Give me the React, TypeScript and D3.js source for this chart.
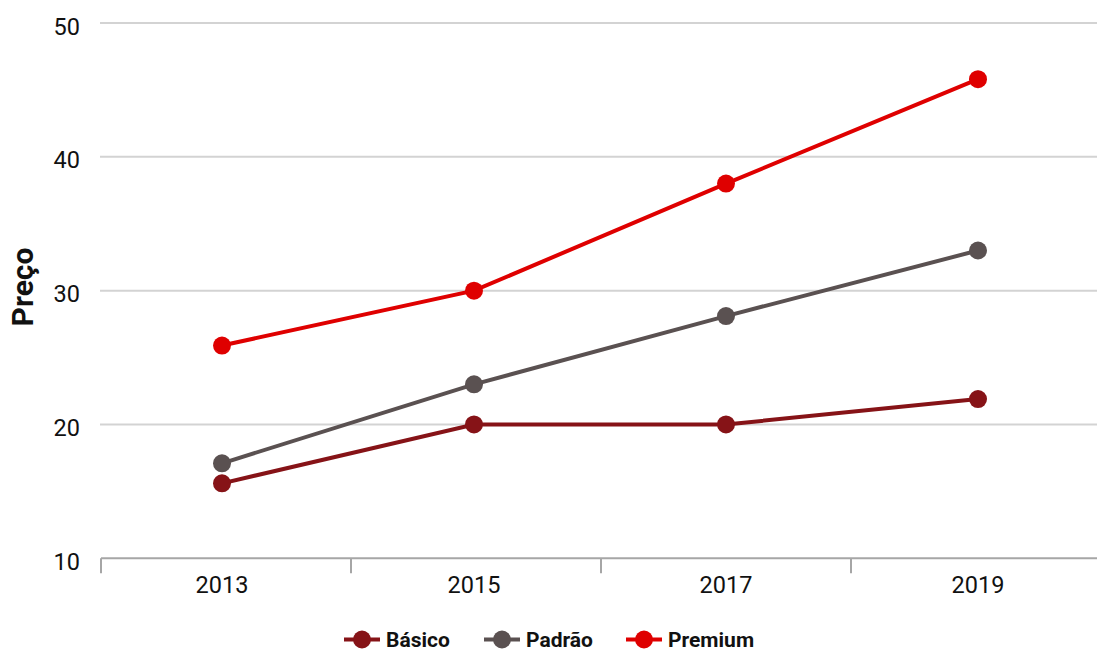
import React from "react";
import * as d3 from "d3";

const years = ["2013", "2015", "2017", "2019"];
const basico = [15.6, 20, 20, 21.9];
const padrao = [17.1, 23, 28.1, 33.0];
const premium = [25.9, 30, 38, 45.8];
const yTicks = [10, 20, 30, 40, 50];
const seriesNames = ["Básico", "Padrão", "Premium"];
const seriesColors = ["#861317", "#5a5151", "#df0000"];

const W = 1097;
const H = 652;

export default function App() {
  const x = d3.scalePoint<string>().domain(years).range([222, 978]);
  const xBand = d3.scaleBand<string>().domain(years).range([101, 1101]);
  const y = d3.scaleLinear().domain([10, 50]).range([558.3, 23]);
  const series = [basico, padrao, premium];
  const line = d3
    .line<number>()
    .x((_, i) => x(years[i]) as number)
    .y((d) => y(d));

  const legendX = [344, 484, 626];
  const legendY = 639.5;
  const font = "Roboto, 'Noto Sans', sans-serif";

  return (
    <svg
      width={W}
      height={H}
      style={{ position: "absolute", left: 0, top: 0, background: "#fff" }}
      fontFamily={font}
    >
      {yTicks.slice(1).map((t) => (
        <line key={t} x1={100} x2={W} y1={y(t)} y2={y(t)} stroke="#d3d3d3" strokeWidth={2} />
      ))}
      {yTicks.map((t) => (
        <text key={t} x={80} y={y(t) + 11.5} textAnchor="end" fontSize={23.5} fill="#111">
          {t}
        </text>
      ))}
      <line x1={101} x2={W} y1={y(10)} y2={y(10)} stroke="#a6a6a6" strokeWidth={2} />
      {years.map((yr) => (
        <line
          key={yr}
          x1={(xBand(yr) as number)}
          x2={(xBand(yr) as number)}
          y1={y(10)}
          y2={y(10) + 15}
          stroke="#a6a6a6"
          strokeWidth={2}
        />
      ))}
      {years.map((yr) => (
        <text key={yr} x={x(yr)} y={593} textAnchor="middle" fontSize={23.5} fill="#111">
          {yr}
        </text>
      ))}
      <text
        transform="translate(33,287) rotate(-90)"
        textAnchor="middle"
        fontSize={30}
        fontWeight="bold"
        fill="#111"
      >
        Preço
      </text>
      {series.map((s, si) => (
        <g key={si}>
          <path d={line(s) || ""} fill="none" stroke={seriesColors[si]} strokeWidth={4} />
          {s.map((v, i) => (
            <circle key={i} cx={x(years[i])} cy={y(v)} r={9} fill={seriesColors[si]} />
          ))}
        </g>
      ))}
      {seriesNames.map((n, i) => (
        <g key={n}>
          <line x1={legendX[i]} x2={legendX[i] + 36} y1={legendY} y2={legendY} stroke={seriesColors[i]} strokeWidth={4} />
          <circle cx={legendX[i] + 18} cy={legendY} r={9} fill={seriesColors[i]} />
          <text x={legendX[i] + 42} y={legendY + 7} fontSize={21} fontWeight="bold" fill="#111">
            {n}
          </text>
        </g>
      ))}
    </svg>
  );
}
